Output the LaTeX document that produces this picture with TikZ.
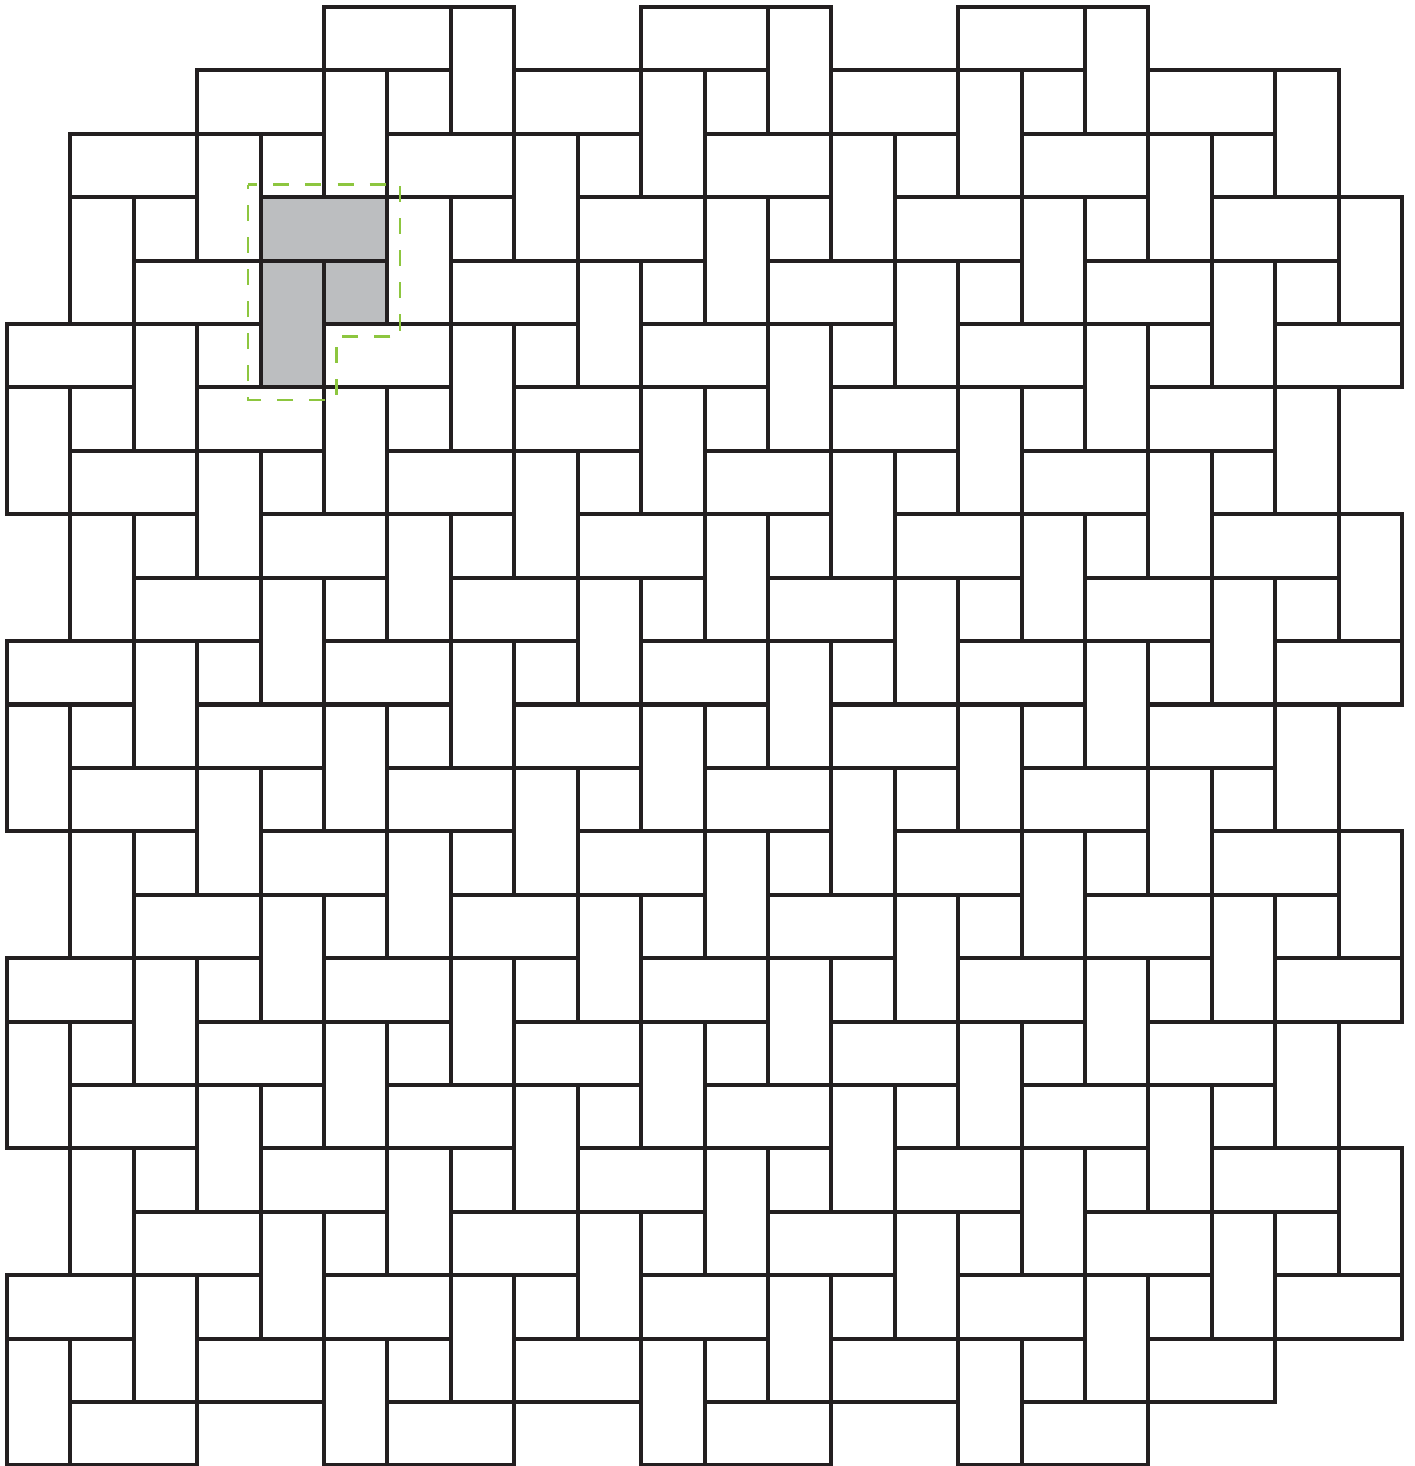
\documentclass[tikz,border=0pt]{standalone}
\usetikzlibrary{calc}
\definecolor{tileline}{RGB}{35,31,32}
\definecolor{tilegray}{RGB}{188,190,192}
\definecolor{markgreen}{RGB}{141,198,63}

\begin{document}
\begin{tikzpicture}[
  x=1cm, y=-1cm,
  tile/.style={draw=tileline, line width=1.8pt},
  shaded/.style={fill=tilegray},
  outline/.style={draw=markgreen, line width=1.2pt, dash pattern=on 7.2pt off 7.2pt, dash phase=3pt}
]
\useasboundingbox (-0.110,-0.110) rectangle (22.204,23.009);
% highlighted unit
\fill[shaded] (4,3) -- (6,3) -- (6,5) -- (5,5) -- (5,6) -- (4,6) -- cycle;
% k=0 long horizontal, k=2 long vertical, k=3 square
\foreach \c in {0,...,21}{
  \foreach \r in {0,...,22}{
    \pgfmathtruncatemacro{\k}{mod(\c+2*\r,5)}
    \pgfmathtruncatemacro{\keep}{(\k==0 && \c<21 && !(\r==0 && (\c==0 || \c==20)))
      || (\k==2 && \r<22 && !((\c==2 && \r==0) || (\c==0 && \r==1) || (\c==20 && \r==21)))
      || (\k==3 && \c>0 && \c<21 && \r>0 && \r<22 && !(\c==1 && \r==1))}
    \pgfmathtruncatemacro{\w}{\k==0 ? 2 : 1}
    \pgfmathtruncatemacro{\h}{\k==2 ? 2 : 1}
    \ifnum\keep=1
      \draw[tile] (\c,\r) rectangle ++(\w,\h);
    \fi
  }
}
\draw[outline] (3.8,2.8) -- (6.2,2.8) -- (6.2,5.2) -- (5.2,5.2) -- (5.2,6.2) -- (3.8,6.2) -- cycle;
\end{tikzpicture}
\end{document}
